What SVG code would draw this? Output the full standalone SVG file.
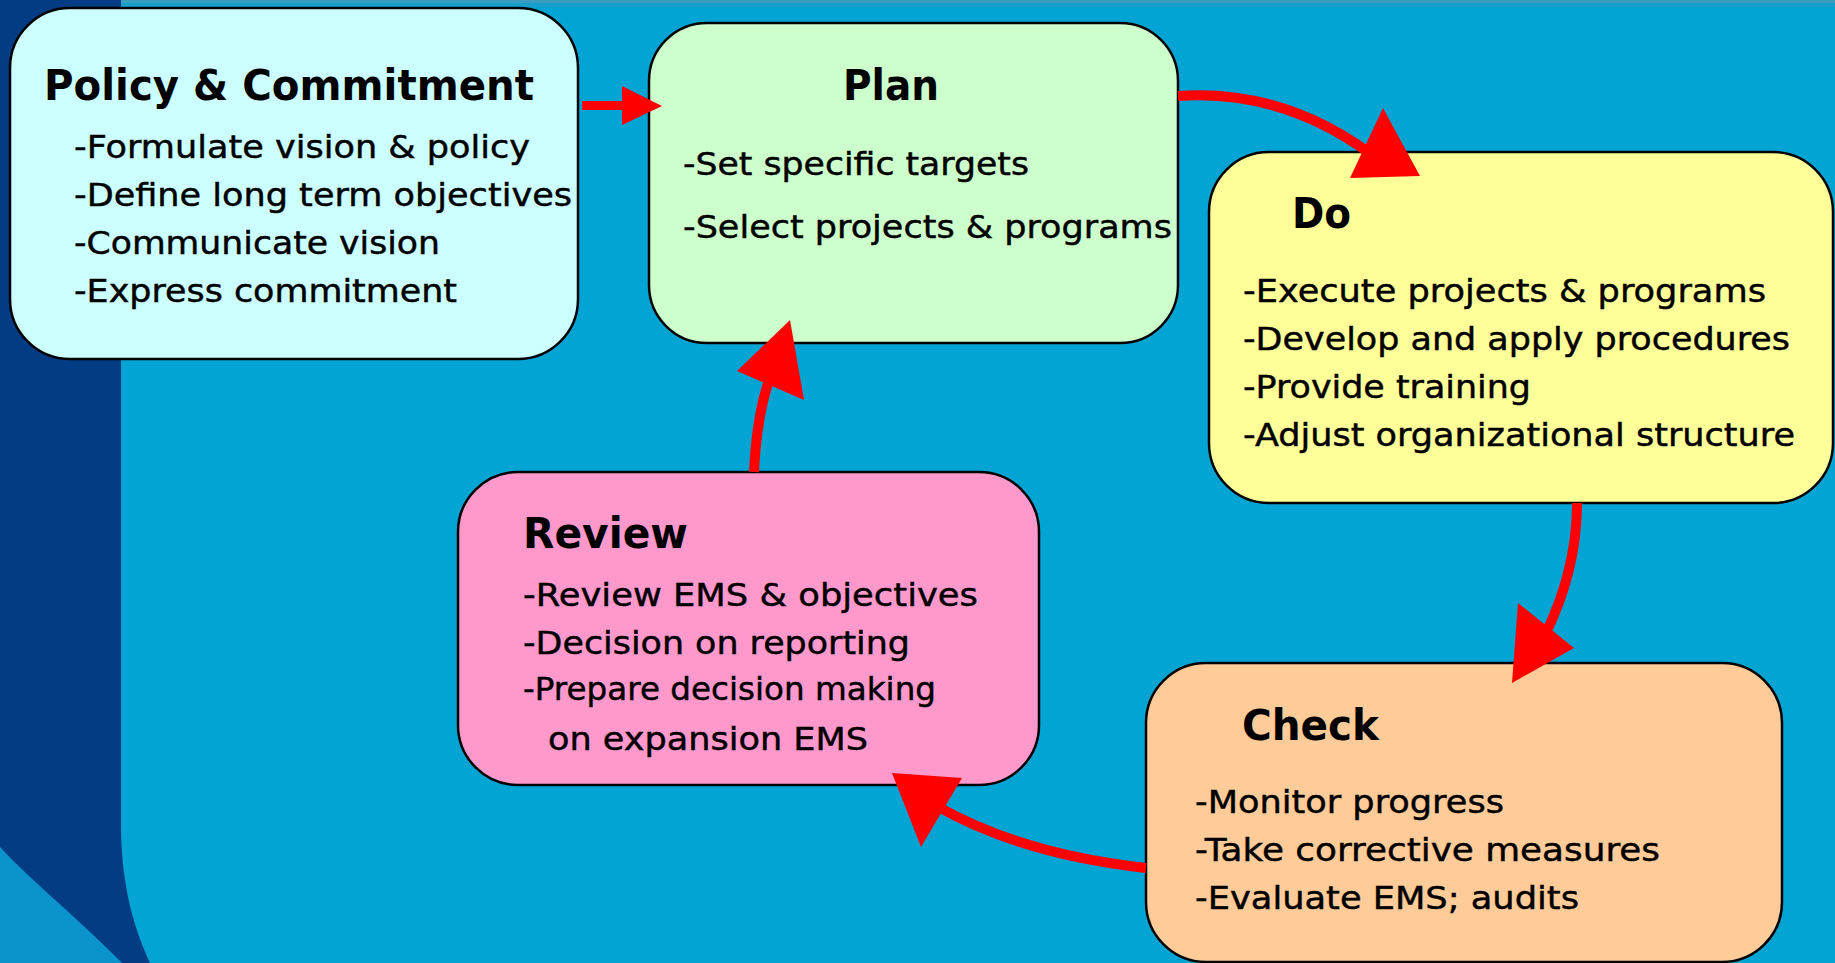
<svg xmlns="http://www.w3.org/2000/svg" width="1835" height="963" viewBox="0 0 1835 963">
  <style>
    .box { stroke: #000; stroke-width: 2.5; }
    .title { font-family: "DejaVu Sans", "Liberation Sans", sans-serif; font-weight: bold; font-size: 43px; fill: #000; }
    .body { font-family: "DejaVu Sans", "Liberation Sans", sans-serif; font-size: 31.5px; fill: #000; stroke: #000; stroke-width: 0.45; }
    .shaft { fill: none; stroke: #ff0000; stroke-width: 10; }
    .head { fill: #ff0000; }
  </style>

  <!-- backdrop -->
  <rect x="0" y="0" width="1835" height="963" fill="#02a4d4"/>
  <rect x="120" y="0" width="1715" height="3" fill="#3a9dbf"/>
  <rect x="120" y="3" width="1715" height="4" fill="#16a0cc"/>
  <path d="M0,847 C30,880 80,920 122,963 H0 Z" fill="#0a94cb"/>
  <path d="M0,0 H121 V830 C122,890 135,930 150,963 H122 C80,920 30,880 0,847 Z" fill="#023c85"/>

  <!-- nodes -->
  <g id="policy">
    <rect class="box" x="10" y="8" width="568" height="351" rx="60" ry="60" fill="#ccffff"/>
    <text class="title" x="44" y="100" textLength="490" lengthAdjust="spacingAndGlyphs">Policy &amp; Commitment</text>
    <text class="body" x="74" y="158" textLength="456" lengthAdjust="spacingAndGlyphs">-Formulate vision &amp; policy</text>
    <text class="body" x="74" y="206" textLength="498" lengthAdjust="spacingAndGlyphs">-Define long term objectives</text>
    <text class="body" x="74" y="254" textLength="366" lengthAdjust="spacingAndGlyphs">-Communicate vision</text>
    <text class="body" x="74" y="302" textLength="383" lengthAdjust="spacingAndGlyphs">-Express commitment</text>
  </g>

  <g id="plan">
    <rect class="box" x="649" y="23" width="529" height="320" rx="58" ry="58" fill="#ccffcc"/>
    <text class="title" x="843" y="100" textLength="96" lengthAdjust="spacingAndGlyphs">Plan</text>
    <text class="body" x="683" y="175" textLength="346" lengthAdjust="spacingAndGlyphs">-Set specific targets</text>
    <text class="body" x="683" y="238" textLength="489" lengthAdjust="spacingAndGlyphs">-Select projects &amp; programs</text>
  </g>

  <g id="do">
    <rect class="box" x="1209" y="152" width="624" height="351" rx="60" ry="60" fill="#ffff99"/>
    <text class="title" x="1292" y="228" textLength="59" lengthAdjust="spacingAndGlyphs">Do</text>
    <text class="body" x="1243" y="302" textLength="523" lengthAdjust="spacingAndGlyphs">-Execute projects &amp; programs</text>
    <text class="body" x="1243" y="350" textLength="547" lengthAdjust="spacingAndGlyphs">-Develop and apply procedures</text>
    <text class="body" x="1243" y="398" textLength="288" lengthAdjust="spacingAndGlyphs">-Provide training</text>
    <text class="body" x="1243" y="446" textLength="552" lengthAdjust="spacingAndGlyphs">-Adjust organizational structure</text>
  </g>

  <g id="review">
    <rect class="box" x="458" y="472" width="581" height="313" rx="60" ry="60" fill="#ff99cc"/>
    <text class="title" x="523" y="548" textLength="165" lengthAdjust="spacingAndGlyphs">Review</text>
    <text class="body" x="523" y="606" textLength="455" lengthAdjust="spacingAndGlyphs">-Review EMS &amp; objectives</text>
    <text class="body" x="523" y="654" textLength="387" lengthAdjust="spacingAndGlyphs">-Decision on reporting</text>
    <text class="body" x="523" y="700" textLength="413" lengthAdjust="spacingAndGlyphs">-Prepare decision making</text>
    <text class="body" x="548" y="750" textLength="320" lengthAdjust="spacingAndGlyphs">on expansion EMS</text>
  </g>

  <g id="check">
    <rect class="box" x="1146" y="663" width="636" height="299" rx="60" ry="60" fill="#ffcc99"/>
    <text class="title" x="1242" y="740" textLength="137" lengthAdjust="spacingAndGlyphs">Check</text>
    <text class="body" x="1195" y="813" textLength="309" lengthAdjust="spacingAndGlyphs">-Monitor progress</text>
    <text class="body" x="1195" y="861" textLength="465" lengthAdjust="spacingAndGlyphs">-Take corrective measures</text>
    <text class="body" x="1195" y="909" textLength="384" lengthAdjust="spacingAndGlyphs">-Evaluate EMS; audits</text>
  </g>

  <!-- connectors -->
  <g id="connectors">
    <!-- policy to plan -->
    <rect x="582" y="101" width="44" height="9" fill="#ff0000"/>
    <polygon class="head" points="622,86 662,106 622,125"/>
    <!-- plan to do -->
    <path class="shaft" d="M1178,96 Q1290,88 1385,165"/>
    <polygon class="head" points="1383,108 1350,178 1420,176"/>
    <!-- do to check -->
    <path class="shaft" d="M1577,503 Q1577,570 1545,635"/>
    <polygon class="head" points="1518,603 1574,648 1512,683"/>
    <!-- check to review -->
    <path class="shaft" d="M1146,868 Q1020,854 935,805"/>
    <polygon class="head" points="892,773 962,778 921,847"/>
    <!-- review to plan -->
    <path class="shaft" d="M754,472 Q757,410 772,372"/>
    <polygon class="head" points="790,320 737,371 804,400"/>
  </g>
</svg>
